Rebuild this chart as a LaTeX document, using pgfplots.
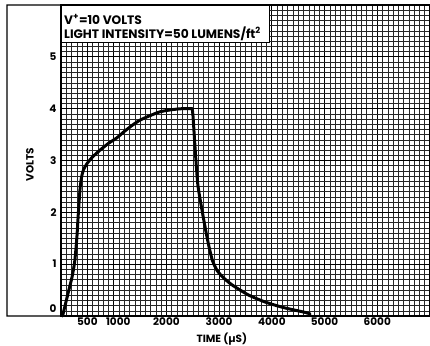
\documentclass[border=0pt]{standalone}
\usepackage{fontspec}
\setmainfont{Poppins}
\usepackage{pgfplots}
\pgfplotsset{compat=1.18}
\begin{document}
\begin{tikzpicture}
\begin{axis}[
  scale only axis, width=369bp, height=311bp,
  xmin=0, xmax=7000, ymin=0, ymax=6,
  xtick={0,1000,...,7000},
  xticklabels={,\hspace*{9bp}1000,2000,3000,4000,5000,6000,},
  extra x ticks={500}, extra x tick labels={500},
  extra x tick style={major grid style={black, line width=0.5pt}},
  ytick={0,1,...,6},
  yticklabels={,1,2,3,4,5,},
  minor x tick num=9, minor y tick num=9,
  grid=both,
  major grid style={black, line width=0.9pt},
  minor grid style={black!85, line width=0.5pt},
  major tick length=0pt, minor tick length=0pt,
  axis line style={black, line width=1.1pt},
  /pgf/number format/assume math mode=true,
  scaled x ticks=false,
  xticklabel style={font=\bfseries\fontsize{10.5}{11}\selectfont, inner sep=1.5bp, anchor=north},
  yticklabel style={font=\bfseries\fontsize{10.5}{11}\selectfont, xshift=-1bp},
  clip=false,
]
\coordinate (O) at (rel axis cs:0,0);
\addplot[black, line width=3pt, line join=round, line cap=round, smooth, tension=0.4] coordinates {
(30,0) (120,0.38) (209,0.75) (260,1.05) (300,1.5) (330,2.0) (361,2.45) (390,2.68) (430,2.83)
(500,2.95) (600,3.07) (740,3.2) (900,3.33) (1063,3.44) (1200,3.56) (1366,3.69)
(1500,3.78) (1700,3.87) (1879,3.94) (2100,3.98) (2300,4.0) (2490,4.0)
};
\addplot[black, line width=3pt, line join=round, line cap=round, smooth, tension=0.4] coordinates {
(2490,4.0) (2505,3.85) (2530,3.45) (2560,3.0) (2600,2.5) (2700,1.9) (2790,1.42) (2870,1.08)
(2960,0.88) (3080,0.74) (3245,0.6) (3548,0.41) (3871,0.27) (4194,0.17)
(4450,0.11) (4630,0.07) (4725,0.04)
};
\filldraw[fill=white, draw=black, line width=0.8pt] (rel axis cs:0,1) rectangle (rel axis cs:0.566,0.881);
\node[anchor=base west, inner sep=0pt, font=\bfseries\fontsize{12.3}{13}\selectfont] at ([shift={(3bp,-19bp)}]rel axis cs:0,1) {V\textsuperscript{+}=10 VOLTS};
\node[anchor=base west, inner sep=0pt, font=\bfseries\fontsize{12.3}{13}\selectfont] at ([shift={(3bp,-33bp)}]rel axis cs:0,1) {LIGHT INTENSITY=50 LUMENS/ft\textsuperscript{2}};
\node[anchor=east, font=\bfseries\fontsize{10.5}{11}\selectfont] at ([shift={(-1bp,7bp)}]rel axis cs:0,0) {0};
\node[rotate=90, font=\bfseries\fontsize{10.5}{11}\selectfont] at ([shift={(-31bp,0)}]rel axis cs:0,0.486) {VOLTS};
\node[font=\bfseries\fontsize{10.5}{11}\selectfont] at ([shift={(0,-23bp)}]rel axis cs:0.436,0) {TIME (µS)};
\draw[black, line width=1.1pt] (rel axis cs:0,1) -- ++(-54bp,0) -- ++(0,-311bp) -- (rel axis cs:0,0);
\end{axis}
\pgfresetboundingbox
\path[use as bounding box] ([shift={(-61bp,-30bp)}]O) rectangle ([shift={(369bp,316bp)}]O);
\end{tikzpicture}
\end{document}
